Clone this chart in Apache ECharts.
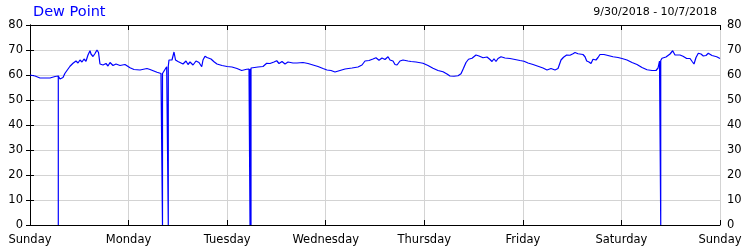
<!DOCTYPE html>
<html>
<head>
<meta charset="utf-8">
<script src="https://cdn.jsdelivr.net/npm/echarts@6/dist/echarts.min.js"></script>
<style>
html,body{margin:0;padding:0;background:#fff;}
#c{width:750px;height:250px;}
</style>
</head>
<body>
<div id="c"></div>
<script>
// Hours since Sunday 9/30/2018 00:00
var hours = [0,1.22,2.43,4.87,6.09,6.57,6.89,6.89,6.89,7.30,8.03,8.52,9.74,10.47,11.20,11.69,12.17,12.66,13.15,13.63,14.12,14.61,14.85,15.34,15.83,16.31,16.68,17.04,17.77,18.50,18.99,19.48,20.21,20.94,21.91,23.13,24.35,25.32,26.78,28.49,29.22,30.92,31.89,32.26,32.26,32.26,32.63,33.28,33.67,33.67,33.67,33.84,34.57,35.06,35.43,36.03,36.52,37.25,37.98,38.47,38.96,39.69,40.42,40.66,41.15,41.81,42.12,42.61,43.10,43.58,44.07,44.80,45.53,46.75,47.97,49.18,50.40,51.54,52.76,53.32,53.57,53.57,53.57,53.81,53.81,53.81,54.05,55.51,56.73,57.63,58.43,59.41,60.07,60.63,61.36,62.09,62.82,63.30,64.03,65.01,66.47,67.69,68.90,70.12,71.34,72.31,73.29,74.26,75.48,76.70,78.40,79.86,80.83,81.57,82.54,83.51,84.24,84.97,85.70,86.43,87.17,87.65,88.38,88.87,89.36,90.09,90.82,91.30,92.03,92.77,93.98,95.69,96.90,98.12,99.34,100.56,101.53,102.26,103.23,104.21,104.94,105.55,106.16,106.77,107.62,108.59,109.32,110.30,111.27,112.00,112.49,112.97,113.46,113.95,114.68,115.65,116.87,118.09,119.30,120.28,121.25,122.47,123.69,124.90,125.88,126.85,127.83,128.56,129.29,129.90,130.67,131.48,132.21,132.70,133.43,134.64,135.13,135.55,136.10,136.59,137.08,137.81,138.30,138.78,139.76,140.73,141.95,143.17,144.14,145.36,146.58,147.79,149.01,150.23,151.45,152.42,152.91,153.27,153.57,153.57,153.57,153.88,154.85,155.83,156.48,157.04,158.26,158.99,159.89,160.70,161.18,161.67,162.16,162.72,163.37,163.94,164.59,165.15,166.05,167.19,168];
var dewPoint = [60.0,59.6,58.8,58.8,59.4,59.7,59.6,0,59.6,58.4,59.0,60.7,63.5,64.7,65.6,64.8,66.0,65.2,66.4,65.5,68.0,69.7,68.4,67.4,68.6,70.0,69.0,64.4,64.0,64.6,63.6,65.0,63.8,64.4,63.8,64.2,62.9,62.2,62.0,62.6,62.2,61.1,60.6,60.6,0,60.6,60.5,63.3,63.5,0,63.5,66.0,66.0,69.2,66.0,65.4,65.0,64.4,65.6,64.2,65.2,64.0,65.6,66.0,65.0,63.3,66.0,67.5,67.0,66.5,66.4,65.3,64.4,63.8,63.4,63.2,62.6,61.8,62.3,62.4,62.4,0,62.4,62.6,0,62.8,63.0,63.2,63.4,64.7,64.6,65.2,65.7,64.6,65.4,64.4,65.2,64.4,64.8,64.8,65.0,64.6,64.0,63.4,62.6,62.0,61.8,61.2,61.8,62.4,62.8,63.2,64.0,65.6,65.8,66.4,66.9,65.9,66.8,66.2,67.3,66.0,65.6,64.2,64.0,65.6,66.0,66.8,65.6,65.4,65.2,64.7,63.8,62.7,61.8,61.3,60.4,59.6,59.5,59.7,60.5,62.7,65.0,66.3,66.7,68.0,67.6,66.9,67.2,66.2,65.4,66.5,65.4,66.6,67.3,66.8,66.6,66.2,65.8,65.5,64.8,64.2,63.5,62.8,62.0,62.6,62.0,62.6,66.0,67.1,68.0,67.9,68.5,69.0,68.5,68.2,67.3,65.6,65.2,64.6,66.3,66.0,67.0,68.2,68.2,67.8,67.3,67.0,66.6,66.0,65.0,64.2,63.0,62.1,61.8,61.8,62.8,65.6,65.8,0,65.8,66.7,67.2,68.4,69.7,68.0,68.0,67.5,66.6,66.6,65.5,64.4,67.0,68.7,68.4,67.6,67.8,68.7,67.8,67.3,66.6];
var dayLabels = ['Sunday','Monday','Tuesday','Wednesday','Thursday','Friday','Saturday','Sunday'];
var titleText = 'Dew Point';
var rangeText = '9/30/2018 - 10/7/2018';

var pts = hours.map(function(h,i){return [h, dewPoint[i]];});
var chart = echarts.init(document.getElementById('c'), null, {renderer:'canvas'});
var fnt = 'DejaVu Sans';
var yAxisBase = {
  type:'value', min:0, max:80, interval:10,
  axisLine:{show:true, lineStyle:{color:'#000', width:1}},
  axisTick:{show:true, inside:true, length:4, lineStyle:{color:'#000'}},
  axisLabel:{color:'#000', fontFamily:fnt, fontSize:11.5, margin:7},
  splitLine:{show:true, lineStyle:{color:'#d3d3d3', width:1}}
};
chart.setOption({
  animation:false,
  backgroundColor:'#fff',
  title:[
    {text:titleText, left:28, top:0, textStyle:{color:'#0000ff', fontFamily:fnt, fontSize:14.5, fontWeight:'normal'}},
    {text:rangeText, right:28, top:2, textStyle:{color:'#000', fontFamily:fnt, fontSize:11, fontWeight:'normal'}}
  ],
  grid:{left:30, right:30, top:25, bottom:25},
  xAxis:[
    {type:'value', min:0, max:168, interval:24, position:'bottom',
     axisLine:{show:true, onZero:false, lineStyle:{color:'#000'}},
     axisTick:{show:true, inside:true, length:5, lineStyle:{color:'#000'}},
     axisLabel:{color:'#000', fontFamily:fnt, fontSize:11.5, margin:9, formatter:function(v){return dayLabels[Math.round(v/24)];}},
     splitLine:{show:true, lineStyle:{color:'#d3d3d3', width:1}}},
    {type:'value', min:0, max:168, interval:24, position:'top',
     axisLine:{show:true, onZero:false, lineStyle:{color:'#000'}},
     axisTick:{show:true, inside:true, length:5, lineStyle:{color:'#000'}},
     axisLabel:{show:false}, splitLine:{show:false}}
  ],
  yAxis:[
    Object.assign({}, yAxisBase, {position:'left'}),
    Object.assign({}, yAxisBase, {position:'right', splitLine:{show:false}})
  ],
  series:[{
    type:'line', data:pts, xAxisIndex:0, yAxisIndex:0,
    showSymbol:false, symbol:'none',
    lineStyle:{color:'#0000ff', width:1.2},
    itemStyle:{color:'#0000ff'}
  }]
});
</script>
</body>
</html>
